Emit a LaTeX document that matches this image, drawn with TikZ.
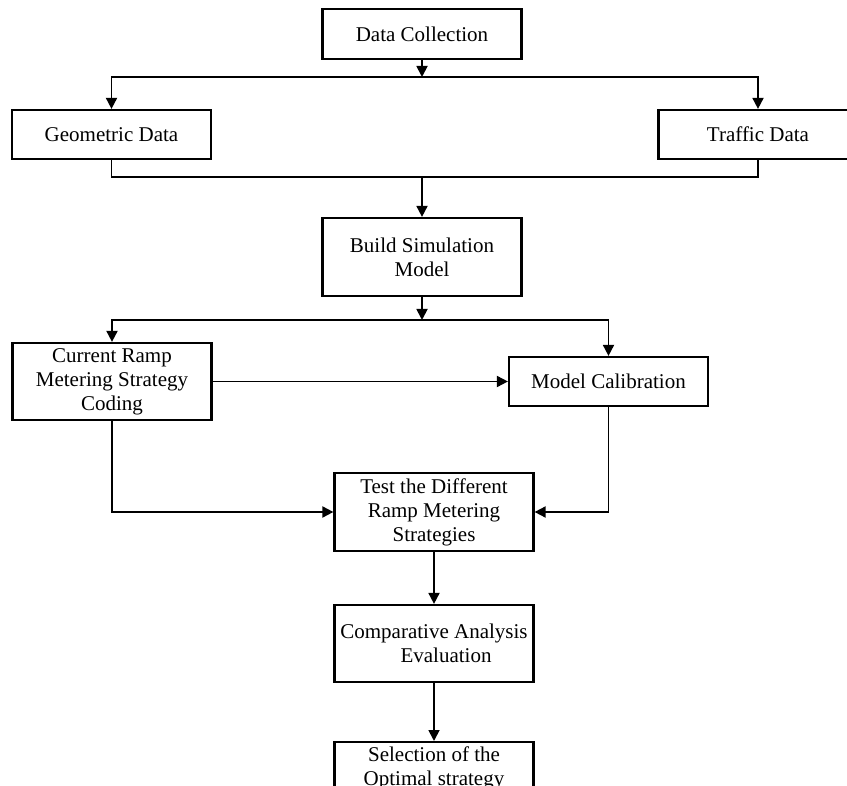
\documentclass[tikz,border=0pt]{standalone}
\usepackage{fontspec}
\setmainfont{Liberation Serif}
\usetikzlibrary{arrows.meta}

\begin{document}
\begin{tikzpicture}[x=1pt, y=-1pt,
    box/.style={draw, line width=2.2pt, minimum width=199pt, inner sep=5pt, align=center, font=\fontsize{21}{24}\selectfont},
    arr/.style={line width=1.8pt, -{Triangle[length=11pt,width=11pt]}},
    link/.style={line width=1.8pt}]
    \useasboundingbox (0,0) rectangle (847,786);
    \clip (0,0) rectangle (847,786);

    %––––– row 1 –––––
    \node[box, minimum height=50pt] (a1) at (422,34) {Data Collection};
    \coordinate (s1) at (422,77);
    \draw[arr] (a1) -- (s1);

    %––––– row 2 –––––
    \node[box, minimum height=49pt] (b1) at (111.5,134.5) {Geometric Data};
    \draw[arr] (s1) -| (b1);

    \node[box, minimum height=49pt] (b2) at (758,134.5) {Traffic Data};
    \draw[arr] (s1) -| (b2);

    \coordinate (m1) at (422,177);
    \draw[link] (b1) |- (m1);
    \draw[link] (b2) |- (m1);

    %––––– row 3 –––––
    \node[box, minimum height=78pt] (c1) at (422,257) {Build Simulation\\Model};
    \draw[arr] (m1) -- (c1);
    \coordinate (s2) at (422,320);
    \draw[arr] (c1) -- (s2);

    %––––– row 4 –––––
    \node[box, minimum height=77pt] (d1) at (112,381.5) {Current Ramp\\Metering Strategy\\Coding};
    \draw[arr] (s2) -| (d1);

    \node[box, minimum height=49pt] (d2) at (608.5,381.5) {Model Calibration};
    \draw[arr] (s2) -| (d2);
    \draw[arr] (d1) -- (d2);

    %––––– row 5 –––––
    \node[box, minimum height=78pt] (e1) at (434,512) {Test the Different\\Ramp Metering\\Strategies};
    \draw[arr] (d1) |- (e1);
    \draw[arr] (d2) |- (e1);

    %––––– row 6 –––––
    \node[box, minimum height=77pt] (f1) at (434,643.5) {Comparative Analysis\\\hspace*{24pt}Evaluation};
    \draw[arr] (e1) -- (f1);

    %––––– row 7 –––––
    \node[box, anchor=north] (g1) at (434,741) {Selection of the\\Optimal strategy};
    \draw[arr] (f1) -- (g1);
\end{tikzpicture}
\end{document}
